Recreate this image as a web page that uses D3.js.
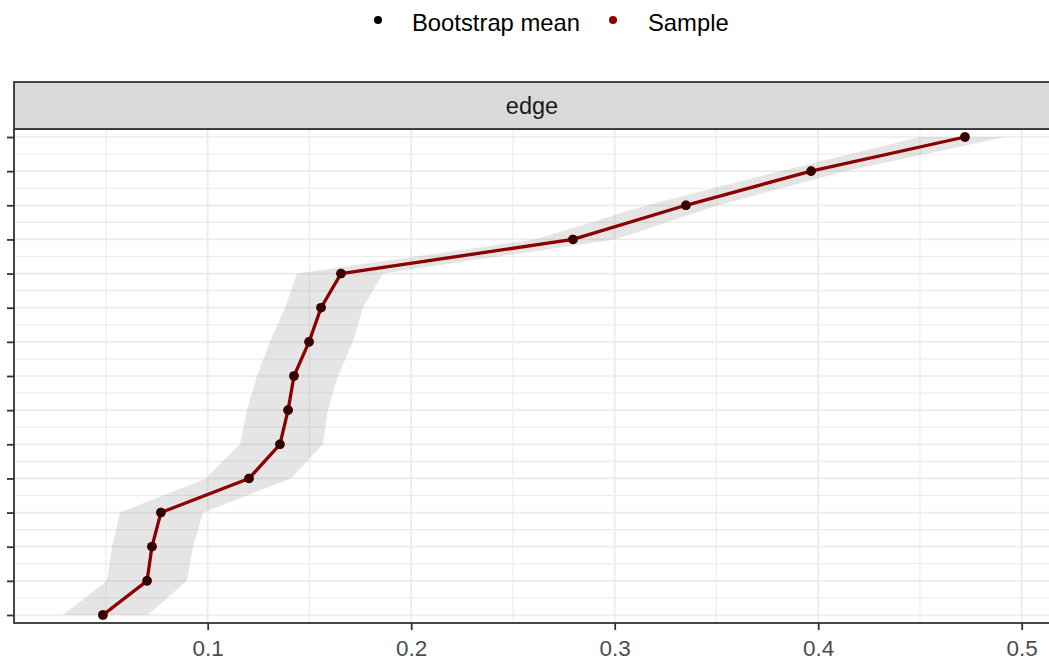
<!DOCTYPE html>
<html>
<head>
<meta charset="utf-8">
<script src="https://cdn.jsdelivr.net/npm/d3@7"></script>
<style>
  html, body { margin: 0; padding: 0; background: #ffffff; overflow: hidden; }
  svg { display: block; font-family: "Liberation Sans", Arial, sans-serif; }
</style>
</head>
<body>
<svg id="chart" width="1049" height="664"></svg>
<script>
// ---- data ----
const categories = ["1","2","3","4","5","6","7","8","9","10","11","12","13","14","15"];
const sampleValues    = [0.0485, 0.0702, 0.0726, 0.0770, 0.1203, 0.1355, 0.1395, 0.1424, 0.1498, 0.1557, 0.1655, 0.2795, 0.3350, 0.3965, 0.4721];
const bootstrapMean   = [0.0485, 0.0702, 0.0726, 0.0770, 0.1203, 0.1355, 0.1395, 0.1424, 0.1498, 0.1557, 0.1655, 0.2795, 0.3350, 0.3965, 0.4721];
const ribbonLower     = [0.0289, 0.0505, 0.0530, 0.0569, 0.0992, 0.1159, 0.1193, 0.1242, 0.1306, 0.1380, 0.1439, 0.2608, 0.3159, 0.3812, 0.4500];
const ribbonUpper     = [0.0707, 0.0898, 0.0928, 0.0977, 0.1409, 0.1566, 0.1591, 0.1640, 0.1714, 0.1763, 0.1861, 0.3001, 0.3508, 0.4132, 0.4918];
const xTicks = [0.1, 0.2, 0.3, 0.4, 0.5];
const xMinorTicks = [0.05, 0.15, 0.25, 0.35, 0.45, 0.55];
const facetLabel = "edge";
const legendLabels = ["Bootstrap mean", "Sample"];

// ---- layout ----
const svg = d3.select("#chart");
const panel = { left: 14, right: 1050, top: 129, bottom: 623 };
const strip = { top: 82, bottom: 129 };

const x = d3.scaleLinear().domain([0.1, 0.5]).range([207.7, 1021.7]);
const y = d3.scalePoint().domain(categories).range([615, 137]);
const step = y.step();

const rows = categories.map((c, i) => ({
  cat: c, s: sampleValues[i], b: bootstrapMean[i], lo: ribbonLower[i], hi: ribbonUpper[i]
}));

// panel background
svg.append("rect").attr("x", panel.left).attr("y", panel.top)
  .attr("width", panel.right - panel.left).attr("height", panel.bottom - panel.top)
  .attr("fill", "#ffffff");

const grid = svg.append("g");
// minor horizontal
categories.slice(0, -1).forEach(c => {
  grid.append("line").attr("x1", panel.left).attr("x2", panel.right)
    .attr("y1", y(c) - step / 2).attr("y2", y(c) - step / 2)
    .attr("stroke", "#ebebeb").attr("stroke-width", 1.1);
});
// minor vertical
xMinorTicks.forEach(v => {
  grid.append("line").attr("y1", panel.top).attr("y2", panel.bottom)
    .attr("x1", x(v)).attr("x2", x(v))
    .attr("stroke", "#ebebeb").attr("stroke-width", 1.1);
});
// major horizontal
categories.forEach(c => {
  grid.append("line").attr("x1", panel.left).attr("x2", panel.right)
    .attr("y1", y(c)).attr("y2", y(c))
    .attr("stroke", "#ebebeb").attr("stroke-width", 1.7);
});
// major vertical
xTicks.forEach(v => {
  grid.append("line").attr("y1", panel.top).attr("y2", panel.bottom)
    .attr("x1", x(v)).attr("x2", x(v))
    .attr("stroke", "#ebebeb").attr("stroke-width", 1.7);
});

// ribbon
const area = d3.area()
  .y(d => y(d.cat))
  .x0(d => x(d.lo))
  .x1(d => x(d.hi));
svg.append("path").datum(rows).attr("d", area)
  .attr("fill", "#7f7f7f").attr("fill-opacity", 0.2);

// sample line
const line = d3.line().x(d => x(d.s)).y(d => y(d.cat));
svg.append("path").datum(rows).attr("d", line)
  .attr("fill", "none").attr("stroke", "#8b0000").attr("stroke-width", 3.3)
  .attr("stroke-linejoin", "round");

// sample points
svg.append("g").selectAll("circle").data(rows).join("circle")
  .attr("cx", d => x(d.s)).attr("cy", d => y(d.cat)).attr("r", 4.8)
  .attr("fill", "#8b0000");
// bootstrap mean points
svg.append("g").selectAll("circle").data(rows).join("circle")
  .attr("cx", d => x(d.b)).attr("cy", d => y(d.cat)).attr("r", 4.8)
  .attr("fill", "#000000").attr("fill-opacity", 0.62);

// panel border
svg.append("rect").attr("x", panel.left).attr("y", panel.top)
  .attr("width", panel.right - panel.left).attr("height", panel.bottom - panel.top)
  .attr("fill", "none").attr("stroke", "#333333").attr("stroke-width", 1.8);

// strip
svg.append("rect").attr("x", panel.left).attr("y", strip.top)
  .attr("width", panel.right - panel.left).attr("height", strip.bottom - strip.top)
  .attr("fill", "#d9d9d9").attr("stroke", "#333333").attr("stroke-width", 1.8);
svg.append("text").attr("x", (panel.left + panel.right) / 2).attr("y", 113.5)
  .attr("text-anchor", "middle").attr("font-size", 23.5).attr("fill", "#1a1a1a")
  .text(facetLabel);

// x axis
const xAxis = svg.append("g").attr("transform", `translate(0,${panel.bottom})`)
  .call(d3.axisBottom(x).tickValues(xTicks).tickSize(7).tickPadding(10).tickFormat(d3.format(".1f")));
xAxis.select(".domain").remove();
xAxis.selectAll(".tick line").attr("stroke", "#333333").attr("stroke-width", 1.8);
xAxis.selectAll(".tick text").attr("fill", "#4d4d4d").attr("font-size", 22.5)
  .attr("font-family", "Liberation Sans, Arial, sans-serif");

// y axis (labels fall outside the visible frame)
const yAxis = svg.append("g").attr("transform", `translate(${panel.left},0)`)
  .call(d3.axisLeft(y).tickSize(7).tickFormat(""));
yAxis.select(".domain").remove();
yAxis.selectAll(".tick line").attr("stroke", "#333333").attr("stroke-width", 1.8);

// legend
const legend = svg.append("g");
const legendItems = [
  { label: legendLabels[0], color: "#000000", cx: 378, tx: 412 },
  { label: legendLabels[1], color: "#8b0000", cx: 613, tx: 648 }
];
legendItems.forEach(it => {
  legend.append("circle").attr("cx", it.cx).attr("cy", 20).attr("r", 4).attr("fill", it.color);
  legend.append("text").attr("x", it.tx).attr("y", 30.5).attr("font-size", 23.8)
    .attr("fill", "#000000").text(it.label);
});
</script>
</body>
</html>
